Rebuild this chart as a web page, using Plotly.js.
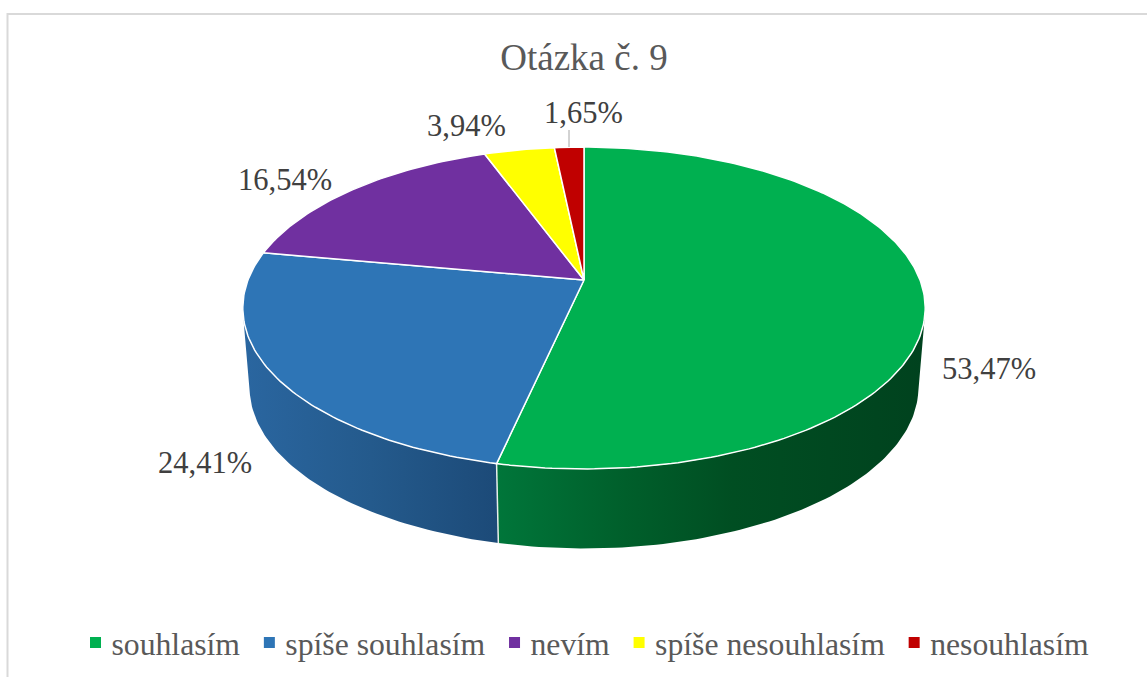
<!DOCTYPE html>
<html>
<head>
<meta charset="utf-8">
<script src="https://cdn.plot.ly/plotly-3.0.0.min.js"></script>
<style>html,body{margin:0;padding:0;background:#fff;overflow:hidden}</style>
</head>
<body>
<div id="chart" style="width:1147px;height:677px"></div>
<script>
const categories = ['souhlasím', 'spíše souhlasím', 'nevím', 'spíše nesouhlasím', 'nesouhlasím'];
const values = [53.47, 24.41, 16.54, 3.94, 1.65];
const colors = ['#00B050', '#2E75B6', '#7030A0', '#FFFF00', '#C00000'];
const chartTitle = 'Otázka č. 9';

// Perspective view of the tilted disc, in axis units equal to pixels
const CX = 584, APEX_Y = 280, RX = 336, RY = 107.4, PERSP = 0.1739;
const DEPTH = 79.5, BASE_SCALE = 0.98;
const FONT = '"Liberation Serif", "Times New Roman", serif';
const total = values.reduce((a, b) => a + b, 0);

function rim(frac) {
  const t = 2 * Math.PI * frac, u = Math.sin(t), v = -Math.cos(t), w = 1 - PERSP * v;
  return [CX + RX * u / w, (APEX_Y + RY * v) / w];
}
function base(frac) {
  const p = rim(frac);
  return [CX + (p[0] - CX) * BASE_SCALE, p[1] + DEPTH];
}
function arc(fn, a, b) {
  const n = Math.max(2, Math.ceil(Math.abs(b - a) * 360)), out = [];
  for (let i = 0; i <= n; i++) out.push(fn(a + (b - a) * i / n));
  return out;
}

const bounds = [];
values.reduce((acc, v) => { bounds.push([acc / total, (acc + v) / total]); return acc + v; }, 0);

const traces = [];
// side wall: only the two front slices are visible
const wallSpec = [
  {i: 0, from: 0.285, to: bounds[0][1],
   scale: [[0, '#00763A'], [0.3, '#005F2B'], [0.55, '#004E22'], [1, '#00421E']]},
  {i: 1, from: bounds[1][0], to: 0.715,
   scale: [[0, '#2A66A0'], [0.5, '#245A8C'], [1, '#1C4A78']]}
];
wallSpec.forEach(s => {
  const pts = arc(rim, s.from, s.to).concat(arc(base, s.to, s.from));
  const xs = pts.map(p => p[0]), ys = pts.map(p => p[1]);
  traces.push({
    type: 'scatter', mode: 'lines', x: xs.concat(xs[0]), y: ys.concat(ys[0]),
    fill: 'toself', line: {width: 0, color: colors[s.i]}, showlegend: false, hoverinfo: 'skip',
    fillgradient: {type: 'horizontal', colorscale: s.scale}
  });
});
// white seam between the walls
const seamTop = rim(bounds[0][1]), seamBase = base(bounds[0][1]);
traces.push({type: 'scatter', mode: 'lines', x: [seamTop[0], seamBase[0]], y: [seamTop[1], seamBase[1]],
  line: {color: '#E8EEEA', width: 1.5}, showlegend: false, hoverinfo: 'skip'});
// top face
values.forEach((v, i) => {
  const pts = arc(rim, bounds[i][0], bounds[i][1]);
  const xs = [CX].concat(pts.map(p => p[0]), CX);
  const ys = [APEX_Y].concat(pts.map(p => p[1]), APEX_Y);
  traces.push({type: 'scatter', mode: 'lines', x: xs, y: ys, fill: 'toself', fillcolor: colors[i],
    line: {color: '#FFFFFF', width: 1.5}, name: categories[i], showlegend: false,
    hovertemplate: categories[i] + ': ' + v + '%<extra></extra>'});
});
// legend entries
categories.forEach((c, i) => {
  traces.push({type: 'scatter', mode: 'markers', x: [null], y: [null], name: c,
    marker: {symbol: 'square', size: 11, color: colors[i]}, hoverinfo: 'skip'});
});

const labelAt = [[989, 369], [205, 463], [285, 180], [466, 126], [583, 113]];
const annotations = values.map((v, i) => ({
  xref: 'x', yref: 'y', x: labelAt[i][0], y: labelAt[i][1], showarrow: false,
  text: v.toFixed(2).replace('.', ',') + '%', xanchor: 'center', yanchor: 'middle',
  font: {family: FONT, size: 30.5, color: '#404040'}
}));

const layout = {
  width: 1147, height: 677, margin: {l: 0, r: 0, t: 0, b: 0, pad: 0},
  paper_bgcolor: '#FFFFFF', plot_bgcolor: '#FFFFFF',
  title: {text: chartTitle, x: 584 / 1147, xanchor: 'center', xref: 'paper',
    y: 1 - 57 / 677, yanchor: 'middle', yref: 'paper', font: {family: FONT, size: 37, color: '#595959'}},
  xaxis: {visible: false, range: [0, 1147], fixedrange: true},
  yaxis: {visible: false, range: [677, 0], fixedrange: true},
  showlegend: true,
  legend: {orientation: 'h', x: 71.5 / 1147, xanchor: 'left', y: 1 - 643 / 677, yanchor: 'middle',
    font: {family: FONT, size: 31.7, color: '#595959'}, bgcolor: 'rgba(0,0,0,0)', traceorder: 'normal',
    itemclick: false, itemdoubleclick: false},
  annotations: annotations,
  shapes: [
    {type: 'line', xref: 'x', yref: 'y', x0: 7.5, x1: 1147, y0: 14, y1: 14, line: {color: '#D9D9D9', width: 2}},
    {type: 'line', xref: 'x', yref: 'y', x0: 7.5, x1: 7.5, y0: 13, y1: 677, line: {color: '#D9D9D9', width: 2}},
    {type: 'line', xref: 'x', yref: 'y', x0: 569, x1: 569, y0: 130, y1: 147, line: {color: '#A6A6A6', width: 1}}
  ]
};

Plotly.newPlot('chart', traces, layout, {displayModeBar: false}).then(gd => {
  gd.querySelectorAll('.legend .legendpoints').forEach(g => g.setAttribute('transform', 'translate(4,0)'));
});
</script>
</body>
</html>
